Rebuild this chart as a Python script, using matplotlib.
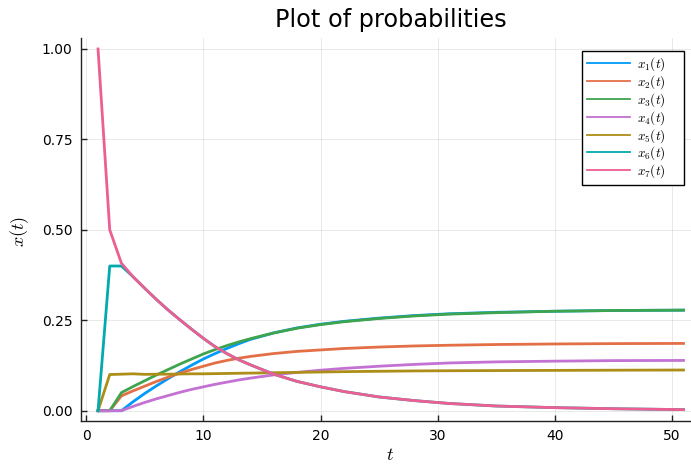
import matplotlib
matplotlib.use("Agg")
import matplotlib.pyplot as plt
from matplotlib.lines import Line2D

plt.rcParams['mathtext.fontset'] = 'cm'
plt.rcParams['font.family'] = ['DejaVu Sans']

t = [1, 2, 3, 4, 5, 6, 7, 8, 9, 10, 11, 12, 13, 14, 16, 18, 20, 22, 25, 28, 31, 35, 40, 45, 51]

x1 = [0, 0, 0, 0.025, 0.048, 0.069, 0.089, 0.108, 0.126, 0.143, 0.158, 0.172, 0.185, 0.197,
      0.215, 0.229, 0.239, 0.247, 0.256, 0.263, 0.268, 0.272, 0.275, 0.277, 0.278]
x2 = [0, 0, 0.041, 0.055, 0.068, 0.081, 0.093, 0.104, 0.114, 0.123, 0.132, 0.139, 0.145, 0.150,
      0.158, 0.164, 0.168, 0.172, 0.176, 0.179, 0.181, 0.183, 0.1845, 0.1855, 0.186]
x3 = [0, 0, 0.050, 0.067, 0.083, 0.099, 0.114, 0.129, 0.143, 0.157, 0.169, 0.180, 0.190, 0.199,
      0.215, 0.228, 0.238, 0.246, 0.255, 0.262, 0.267, 0.271, 0.275, 0.277, 0.278]
x4 = [0, 0, 0, 0.012, 0.023, 0.033, 0.042, 0.051, 0.059, 0.066, 0.073, 0.079, 0.085, 0.090,
      0.099, 0.106, 0.112, 0.117, 0.123, 0.128, 0.132, 0.135, 0.137, 0.1385, 0.139]
x5 = [0, 0.100, 0.101, 0.102, 0.1005, 0.101, 0.101, 0.1015, 0.102, 0.102, 0.1025, 0.103, 0.1035, 0.104,
      0.105, 0.106, 0.107, 0.108, 0.109, 0.110, 0.1105, 0.111, 0.1115, 0.112, 0.1125]
x6 = [0, 0.400, 0.400, 0.370, 0.338, 0.307, 0.278, 0.251, 0.225, 0.200, 0.177, 0.158, 0.141, 0.127,
      0.101, 0.081, 0.066, 0.053, 0.038, 0.028, 0.020, 0.013, 0.0085, 0.0055, 0.003]
x7 = [1.0, 0.500, 0.4075, 0.370, 0.338, 0.307, 0.278, 0.251, 0.225, 0.200, 0.177, 0.158, 0.141, 0.127,
      0.101, 0.081, 0.066, 0.053, 0.038, 0.028, 0.020, 0.013, 0.0085, 0.0055, 0.003]

series = [x1, x2, x3, x4, x5, x6, x7]
labels = [r'$x_{%d}(t)$    ' % i for i in range(1, 8)]
colors = ['#009AFA', '#E36F47', '#3EA44E', '#C371D2', '#AC8E18', '#00AAAE', '#ED5E93']

W, H = 691, 465
fig = plt.figure(figsize=(W / 100, H / 100), dpi=100)
left, right, top, bottom = 80.7, 691.0, 38.1, 420.7
ax = fig.add_axes([left / W, 1 - bottom / H, (right - left) / W, (bottom - top) / H])

for y, c in zip(series, colors):
    ax.plot(t, y, color=c, lw=2.0, solid_joinstyle='round')

ax.set_xlim(-0.48, 51.64)
ax.set_ylim(-0.0276, 1.03)
ax.set_xticks([0, 10, 20, 30, 40, 50])
ax.set_yticks([0, 0.25, 0.5, 0.75, 1.0])
ax.set_yticklabels(['0.00', '0.25', '0.50', '0.75', '1.00'])
ax.grid(True, color='black', alpha=0.1, lw=0.6)
ax.set_axisbelow(True)
for s in ['top', 'right']:
    ax.spines[s].set_visible(False)
for s in ['left', 'bottom']:
    ax.spines[s].set_linewidth(1.0)
    ax.spines[s].set_color('#222222')
ax.tick_params(direction='in', length=4, width=1.0, labelsize=10, pad=6, colors='#222222',
               labelcolor='black')

fig.text(391 / W, 1 - 27.3 / H, 'Plot of probabilities', ha='center', va='baseline', fontsize=17.3)
fig.text(20 / W, 1 - 231.7 / H, r'$x(t)$', rotation=90, ha='center', va='center', fontsize=13)
fig.text(390 / W, 1 - 455 / H, r'$t$', ha='center', va='center', fontsize=13)

handles = [Line2D([0], [0], color=c, lw=1.3) for c in colors]
leg = ax.legend(handles, labels, loc='upper left', bbox_to_anchor=(582.3 / W, 1 - 51 / H),
                bbox_transform=fig.transFigure, borderaxespad=0, fontsize=9.5,
                frameon=True, fancybox=False, framealpha=1, edgecolor='black',
                handlelength=3.3, handletextpad=0.5, labelspacing=0.0, borderpad=0.35)
leg.get_frame().set_linewidth(1.0)

fig.savefig('out.png', dpi=100)
